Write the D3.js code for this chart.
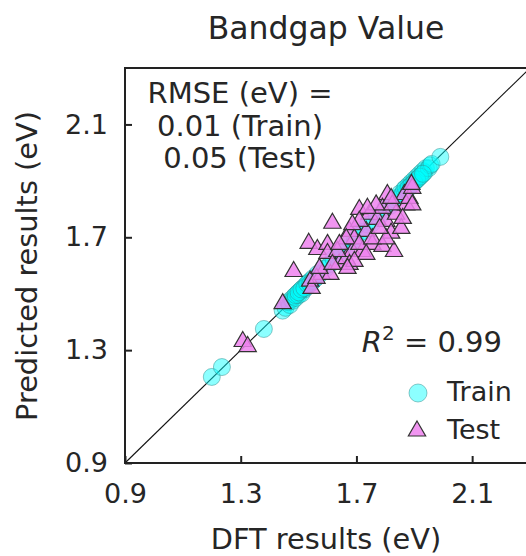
<!DOCTYPE html>
<html>
<head>
<meta charset="utf-8">
<script src="https://cdn.jsdelivr.net/npm/d3@7"></script>
<style>
  body { margin: 0; background: #fff; }
  text { font-family: "DejaVu Sans", sans-serif; fill: #262626; }
</style>
</head>
<body>
<div id="root"></div>
<script>
// train points [DFT, predicted]
var trainData = [
  [1.20,1.205],[1.235,1.24],[1.38,1.375],[1.445,1.44],[1.455,1.45],[1.465,1.47],[1.47,1.46],
  [1.475,1.48],[1.48,1.475],[1.485,1.49],[1.49,1.485],[1.495,1.50],[1.50,1.495],[1.505,1.51],
  [1.51,1.50],[1.515,1.52],[1.52,1.515],[1.525,1.53],[1.53,1.525],[1.535,1.54],[1.54,1.545],
  [1.545,1.54],[1.55,1.555],[1.56,1.555],[1.565,1.57],[1.575,1.57],[1.585,1.59],[1.595,1.59],
  [1.61,1.605],[1.62,1.625],[1.635,1.63],[1.65,1.655],[1.665,1.66],[1.68,1.685],[1.695,1.69],
  [1.71,1.715],[1.725,1.72],[1.74,1.745],[1.755,1.75],[1.77,1.775],[1.785,1.78],[1.80,1.805],
  [1.815,1.81],[1.83,1.835],[1.84,1.84],[1.85,1.855],[1.86,1.855],[1.865,1.87],[1.875,1.87],
  [1.88,1.885],[1.885,1.88],[1.89,1.895],[1.895,1.89],[1.90,1.905],[1.905,1.90],[1.91,1.915],
  [1.915,1.91],[1.92,1.925],[1.925,1.92],[1.93,1.935],[1.935,1.93],[1.94,1.945],[1.95,1.945],
  [1.955,1.955],[1.96,1.96],[1.99,1.985],
  [1.49,1.495],[1.50,1.505],[1.51,1.515],[1.52,1.52],[1.53,1.535],[1.54,1.535],[1.55,1.545],
  [1.87,1.875],[1.88,1.875],[1.89,1.885],[1.90,1.895],[1.91,1.905],[1.92,1.915],[1.93,1.925]
];

// test points [DFT, predicted]
var testData = [
  [1.307,1.336],[1.324,1.318],[1.445,1.47],[1.483,1.584],[1.54,1.55],[1.545,1.524],
  [1.535,1.684],[1.565,1.662],[1.60,1.68],[1.60,1.648],[1.617,1.755],[1.58,1.574],
  [1.61,1.574],[1.64,1.61],[1.665,1.63],[1.676,1.726],[1.686,1.655],[1.676,1.609],
  [1.693,1.70],[1.71,1.804],[1.72,1.655],[1.734,1.726],[1.745,1.787],[1.755,1.68],
  [1.772,1.769],[1.79,1.673],[1.803,1.762],[1.807,1.857],[1.79,1.808],[1.82,1.72],
  [1.83,1.655],[1.837,1.787],[1.855,1.737],[1.866,1.857],[1.872,1.82],[1.883,1.843],
  [1.893,1.879],[1.893,1.82],[1.86,1.772],[1.824,1.82],[1.768,1.82],[1.738,1.808],
  [1.71,1.762],[1.686,1.75],[1.665,1.70],[1.634,1.655],[1.71,1.68],[1.755,1.70],
  [1.803,1.70],[1.78,1.737],[1.734,1.645],[1.693,1.62],[1.669,1.595],[1.562,1.56],
  [1.572,1.595],[1.617,1.609],[1.641,1.68],[1.89,1.893],[1.82,1.843]
];

var ticks = [0.9, 1.3, 1.7, 2.1];
var domain = [0.9, 2.3];
var rmseLines = ["RMSE (eV) =", "0.01 (Train)", "0.05 (Test)"];

var W = 526, H = 556;
var svg = d3.select("#root").append("svg")
    .attr("width", W)
    .attr("height", H);

var x = d3.scaleLinear().domain(domain).range([125, 530]);
var y = d3.scaleLinear().domain(domain).range([463, 68]);

// diagonal
svg.append("line")
    .attr("x1", x(domain[0])).attr("y1", y(domain[0]))
    .attr("x2", x(domain[1])).attr("y2", y(domain[1]))
    .attr("stroke", "#111").attr("stroke-width", 1.1);

var tri = d3.symbol().type(d3.symbolTriangle).size(130);

// train
svg.append("g").selectAll("circle")
    .data(trainData)
    .enter()
    .append("circle")
    .attr("cx", function(d) { return x(d[0]); })
    .attr("cy", function(d) { return y(d[1]); })
    .attr("r", 8.5)
    .attr("fill", "#00ffff")
    .attr("fill-opacity", 0.45)
    .attr("stroke", "#2f8f8f")
    .attr("stroke-opacity", 0.5)
    .attr("stroke-width", 1);

// test
svg.append("g").selectAll("path")
    .data(testData)
    .enter()
    .append("path")
    .attr("d", tri)
    .attr("transform", function(d) { return "translate(" + x(d[0]) + "," + (y(d[1]) + 1.5) + ")"; })
    .attr("fill", "#ee82ee")
    .attr("fill-opacity", 0.85)
    .attr("stroke", "#333")
    .attr("stroke-width", 1.2);

// frame
svg.append("rect")
    .attr("x", x(domain[0])).attr("y", y(domain[1]))
    .attr("width", x(domain[1]) - x(domain[0]))
    .attr("height", y(domain[0]) - y(domain[1]))
    .attr("fill", "none")
    .attr("stroke", "#222")
    .attr("stroke-width", 2);

// axes, ticks inward
var xAxis = d3.axisBottom(x).tickValues(ticks).tickSize(-7).tickPadding(14)
    .tickFormat(d3.format(".1f"));
var yAxis = d3.axisLeft(y).tickValues(ticks).tickSize(-7).tickPadding(17)
    .tickFormat(d3.format(".1f"));

var gx = svg.append("g").attr("transform", "translate(0," + y(domain[0]) + ")").call(xAxis);
var gy = svg.append("g").attr("transform", "translate(" + x(domain[0]) + ",0)").call(yAxis);
[gx, gy].forEach(function(g) {
    g.select(".domain").remove();
    g.selectAll(".tick line").attr("stroke", "#222").attr("stroke-width", 2);
    g.selectAll(".tick text")
        .attr("font-size", "27px")
        .attr("font-family", "DejaVu Sans")
        .attr("fill", "#262626");
});
gx.selectAll(".tick text").attr("dy", "0.95em");

// title
svg.append("text")
    .attr("x", 326).attr("y", 39)
    .attr("text-anchor", "middle")
    .attr("font-size", "31.5px")
    .text("Bandgap Value");

svg.append("text")
    .attr("x", 326).attr("y", 549)
    .attr("text-anchor", "middle")
    .attr("font-size", "28.8px")
    .text("DFT results (eV)");

svg.append("text")
    .attr("transform", "translate(37,266) rotate(-90)")
    .attr("text-anchor", "middle")
    .attr("font-size", "28.8px")
    .text("Predicted results (eV)");

// RMSE
svg.append("g").selectAll("text")
    .data(rmseLines)
    .enter()
    .append("text")
    .attr("x", 240)
    .attr("y", function(d, i) { return 103 + i * 32.5; })
    .attr("text-anchor", "middle")
    .attr("font-size", "29px")
    .text(function(d) { return d; });

// R^2
var r2 = svg.append("text")
    .attr("x", 502).attr("y", 352)
    .attr("text-anchor", "end")
    .attr("font-size", "29px");
r2.append("tspan").attr("font-style", "italic").text("R");
r2.append("tspan").attr("font-size", "20px").attr("dy", -12).text("2");
r2.append("tspan").attr("dy", 12).text(" = 0.99");

// legend
svg.append("circle")
    .attr("cx", 418).attr("cy", 393).attr("r", 9)
    .attr("fill", "#00ffff").attr("fill-opacity", 0.45)
    .attr("stroke", "#2f8f8f").attr("stroke-opacity", 0.5);
svg.append("path")
    .attr("d", tri)
    .attr("transform", "translate(417,431)")
    .attr("fill", "#ee82ee").attr("fill-opacity", 0.85)
    .attr("stroke", "#333").attr("stroke-width", 1.2);
svg.append("text").attr("x", 447).attr("y", 401).attr("font-size", "27px").text("Train");
svg.append("text").attr("x", 447).attr("y", 439).attr("font-size", "27px").text("Test");
</script>
</body>
</html>
